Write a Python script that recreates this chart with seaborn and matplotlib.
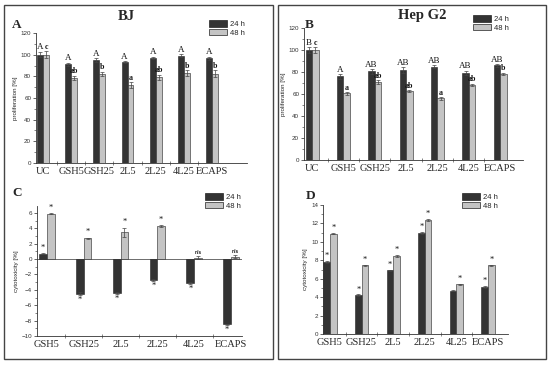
import numpy as np
import pandas as pd
import matplotlib
matplotlib.use("Agg")
import matplotlib.pyplot as plt
import seaborn as sns
from matplotlib.ticker import MultipleLocator, FixedLocator
from matplotlib.patches import Patch, Rectangle

# data
samples_prolif = ["UC", "GSH5", "GSH25", "2L5", "2L25", "4L25", "ECAPS"]
samples_cyto = ["GSH5", "GSH25", "2L5", "2L25", "4L25", "ECAPS"]
times = ["24 h", "48 h"]

bj_24 = [100, 91, 95, 93, 97, 99, 96.5]
bj_48 = [100, 78.5, 82, 72, 79, 83, 82.5]
bj_24_err = [2.5, 1.5, 1.5, 1.0, 1.0, 1.5, 1.5]
bj_48_err = [3.0, 2.0, 2.0, 2.5, 2.5, 2.5, 3.0]
bj_24_marks = ["A", "A", "A", "A", "A", "A", "A"]
bj_48_marks = ["c", "ab", "b", "a", "ab", "b", "b"]

hep_24 = [100, 76, 80.5, 82, 85, 79, 86]
hep_48 = [100, 60.5, 71, 62.5, 56, 68.5, 78.5]
hep_24_err = [2.5, 2.0, 2.0, 2.5, 1.0, 2.0, 1.0]
hep_48_err = [2.5, 1.0, 1.5, 1.0, 1.0, 1.0, 1.0]
hep_24_marks = ["B", "A", "AB", "AB", "AB", "AB", "AB"]
hep_48_marks = ["c", "a", "ab", "ab", "a", "ab", "b"]

bjc_24 = [0.7, -4.5, -4.4, -2.7, -3.1, -8.5]
bjc_48 = [5.9, 2.7, 3.5, 4.3, 0.2, 0.3]
bjc_24_err = [0.1, 0.2, 0.1, 0.1, 0.1, 0.1]
bjc_48_err = [0.1, 0.1, 0.6, 0.1, 0.2, 0.2]
bjc_24_marks = ["*", "*", "*", "*", "*", "*"]
bjc_48_marks = ["*", "*", "*", "*", "n/s", "n/s"]

hepc_24 = [7.8, 4.2, 6.9, 11.0, 4.7, 5.1]
hepc_48 = [10.9, 7.45, 8.5, 12.4, 5.4, 7.45]
hepc_24_err = [0.1, 0.1, 0.1, 0.1, 0.05, 0.1]
hepc_48_err = [0.1, 0.05, 0.1, 0.1, 0.05, 0.05]
hepc_24_marks = ["*", "*", "*", "*", "", "*"]
hepc_48_marks = ["*", "*", "*", "*", "*", "*"]

dark = "#333333"
light = "#c4c4c4"
serif = ["Liberation Serif", "DejaVu Serif"]
sans = ["Liberation Sans", "DejaVu Sans"]

sns.set_style("ticks")
plt.rcParams["font.family"] = sans


def bar_panel(ax, cats, v24, v48, e24, e48, m24, m48, mark_size, pad):
    df = pd.DataFrame({
        "sample": cats * 2,
        "time": [times[0]] * len(cats) + [times[1]] * len(cats),
        "value": v24 + v48,
    })
    sns.barplot(data=df, x="sample", y="value", hue="time", order=cats,
                hue_order=times, palette=[dark, light], width=0.42,
                errorbar=None, edgecolor="#222222", linewidth=0.4,
                legend=False, ax=ax)
    for k, (cont, errs, marks) in enumerate(zip(ax.containers, [e24, e48], [m24, m48])):
        xs = [b.get_x() + b.get_width() / 2 for b in cont]
        vals = list(cont.datavalues)
        ax.errorbar(xs, vals, yerr=errs, fmt="none", ecolor="#444444",
                    elinewidth=0.5, capsize=1.2, capthick=0.5)
        for x, v, e, m in zip(xs, vals, errs, marks):
            if not m:
                continue
            size = mark_size if (k == 0 or m == "*") else mark_size - 0.8
            fam = serif
            if m == "n/s":
                size = 3.5
                fam = sans
            if v >= 0:
                ax.text(x, v + e + pad, m, ha="center", va="bottom",
                        fontsize=size, family=fam, color="#111111",
                        fontweight="bold" if k == 1 and m != "*" else "normal")
            else:
                ax.text(x, v - e - pad, m, ha="center", va="top",
                        fontsize=size, family=fam, color="#111111")
    n = len(cats)
    ax.set_xlabel("")
    ax.xaxis.set_major_locator(FixedLocator(np.arange(n)))
    ax.set_xticklabels(cats, family=serif, fontsize=7.5)
    ax.xaxis.set_minor_locator(FixedLocator(np.arange(n - 1) + 0.5))
    ax.tick_params(axis="x", which="major", length=0, pad=3)
    ax.tick_params(axis="x", which="minor", length=2.5, width=0.5,
                   direction="inout", color="#555555")
    ax.tick_params(axis="y", which="major", length=2, width=0.5,
                   labelsize=4.5, pad=1.5, labelcolor="#333333")
    ax.tick_params(axis="y", which="minor", length=1.2, width=0.4)
    for s in ["top", "right"]:
        ax.spines[s].set_visible(False)
    for s in ["left", "bottom"]:
        ax.spines[s].set_linewidth(0.6)
        ax.spines[s].set_color("#333333")


def legend_at(ax, fig, fx, fy):
    handles = [Patch(facecolor=dark, edgecolor="#222222", linewidth=0.5),
               Patch(facecolor=light, edgecolor="#222222", linewidth=0.5)]
    ax.legend(handles, times, loc="upper left", bbox_to_anchor=(fx, fy),
              bbox_transform=fig.transFigure, frameon=False, fontsize=5.5,
              handlelength=2.4, handleheight=0.95, labelspacing=0.12,
              borderpad=0, borderaxespad=0, handletextpad=0.35)


W, H = 550, 366
fig = plt.figure(figsize=(W / 100, H / 100), dpi=100)


def axes_px(x0, y_top, x1, y_bot):
    return fig.add_axes([x0 / W, 1 - y_bot / H, (x1 - x0) / W, (y_bot - y_top) / H])


# panel boxes
for x0, x1 in [(4, 273), (278, 546)]:
    fig.patches.append(Rectangle((x0 / W, 1 - 359 / H), (x1 - x0) / W, (359 - 5) / H,
                                 transform=fig.transFigure, fill=False,
                                 edgecolor="#444444", linewidth=1.0))

# A - BJ proliferation
axA = axes_px(36, 33, 247, 163)
bar_panel(axA, samples_prolif, bj_24, bj_48, bj_24_err, bj_48_err,
          bj_24_marks, bj_48_marks, 6.5, 0.5)
axA.set_ylim(0, 120)
axA.set_xlim(-0.25, 7.24)
axA.yaxis.set_major_locator(MultipleLocator(20))
axA.yaxis.set_minor_locator(MultipleLocator(10))
axA.set_ylabel("proliferation [%]", fontsize=4.5, labelpad=2)
legend_at(axA, fig, 209 / W, 1 - 20 / H)
fig.text(126 / W, 1 - 17 / H, "BJ", ha="center", va="center",
         family=serif, fontsize=10.5, fontweight="bold")
fig.text(12 / W, 1 - 25 / H, "A", ha="left", va="center",
         family=serif, fontsize=9.5, fontweight="bold")

# B - Hep G2 proliferation
axB = axes_px(304, 28, 523, 160)
bar_panel(axB, samples_prolif, hep_24, hep_48, hep_24_err, hep_48_err,
          hep_24_marks, hep_48_marks, 6.5, 0.5)
axB.set_ylim(0, 120)
axB.set_xlim(-0.26, 6.73)
axB.yaxis.set_major_locator(MultipleLocator(20))
axB.yaxis.set_minor_locator(MultipleLocator(10))
axB.set_ylabel("proliferation [%]", fontsize=4.5, labelpad=2)
legend_at(axB, fig, 473 / W, 1 - 15 / H)
fig.text(422 / W, 1 - 16 / H, "Hep G2", ha="center", va="center",
         family=serif, fontsize=10.5, fontweight="bold")
fig.text(305 / W, 1 - 25 / H, "B", ha="left", va="center",
         family=serif, fontsize=9.5, fontweight="bold")

# C - BJ cytotoxicity
axC = axes_px(37, 206, 242, 336)
bar_panel(axC, samples_cyto, bjc_24, bjc_48, bjc_24_err, bjc_48_err,
          bjc_24_marks, bjc_48_marks, 6, 0.15)
axC.set_ylim(-10, 6.9)
axC.set_xlim(-0.27, 5.3)
axC.axhline(0, color="#555555", linewidth=0.6, zorder=0.5)
axC.yaxis.set_major_locator(MultipleLocator(2))
axC.yaxis.set_minor_locator(MultipleLocator(1))
axC.set_ylabel("cytotoxicity [%]", fontsize=4.5, labelpad=2)
legend_at(axC, fig, 205 / W, 1 - 193 / H)
fig.text(12 / W, 1 - 193 / H, "C", ha="left", va="center",
         family=serif, fontsize=9.5, fontweight="bold")

# D - Hep G2 cytotoxicity
axD = axes_px(323, 205, 508, 334)
bar_panel(axD, samples_cyto, hepc_24, hepc_48, hepc_24_err, hepc_48_err,
          hepc_24_marks, hepc_48_marks, 6, 0.1)
axD.set_ylim(0, 14)
axD.set_xlim(-0.22, 5.63)
axD.yaxis.set_major_locator(MultipleLocator(2))
axD.yaxis.set_minor_locator(MultipleLocator(1))
axD.set_ylabel("cytotoxicity [%]", fontsize=4.5, labelpad=2)
legend_at(axD, fig, 462 / W, 1 - 193 / H)
fig.text(306 / W, 1 - 196 / H, "D", ha="left", va="center",
         family=serif, fontsize=9.5, fontweight="bold")

fig.savefig("out.png", dpi=100)
